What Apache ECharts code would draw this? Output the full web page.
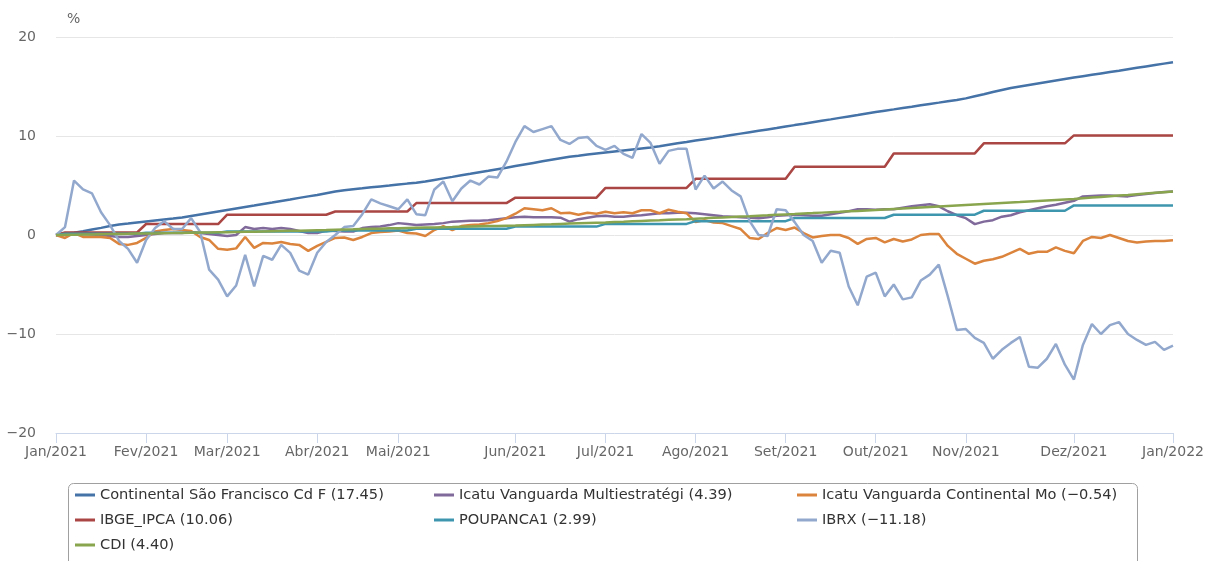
<!DOCTYPE html>
<html>
<head>
<meta charset="utf-8">
<script src="https://cdn.jsdelivr.net/npm/echarts@6.0.0/dist/echarts.min.js"></script>
<style>
  html, body { margin: 0; padding: 0; background: #fff; }
  #chart { width: 1208px; height: 561px; }
</style>
</head>
<body>
<div id="chart"></div>
<script>
// months on the x axis and how many points each month holds
const monthNames = ['Jan', 'Fev', 'Mar', 'Abr', 'Mai', 'Jun', 'Jul', 'Ago', 'Set', 'Out', 'Nov', 'Dez']
const daysInMonth = [31, 28, 31, 30, 31, 30, 31, 31, 30, 31, 30, 31]
const pointsPerMonth = [10, 9, 10, 9, 13, 10, 10, 10, 10, 10, 12, 11]
const yTicks = [-20, -10, 0, 10, 20]

// cumulative return, %
const continental = [
  0, 0.12, 0.24, 0.37, 0.55, 0.72, 0.9, 1.05, 1.15, 1.26,
  1.36, 1.46, 1.56, 1.66, 1.77, 1.92, 2.07, 2.22, 2.37,
  2.52, 2.67, 2.82, 2.97, 3.13, 3.28, 3.44, 3.59, 3.75, 3.9,
  4.05, 4.22, 4.39, 4.53, 4.63, 4.72, 4.82, 4.91, 5.0,
  5.1, 5.19, 5.27, 5.4, 5.56, 5.72, 5.87, 6.03, 6.18, 6.34, 6.49, 6.65, 6.8,
  6.96, 7.12, 7.28, 7.44, 7.6, 7.76, 7.91, 8.0, 8.13, 8.24,
  8.34, 8.44, 8.54, 8.64, 8.74, 8.84, 8.96, 9.11, 9.26, 9.4,
  9.55, 9.68, 9.81, 9.95, 10.1, 10.24, 10.38, 10.52, 10.66, 10.8,
  10.95, 11.1, 11.24, 11.39, 11.54, 11.68, 11.83, 11.98, 12.12, 12.27,
  12.42, 12.56, 12.69, 12.83, 12.96, 13.1, 13.24, 13.37, 13.51, 13.64,
  13.8, 14.01, 14.22, 14.44, 14.65, 14.85, 15.0, 15.15, 15.3, 15.45, 15.6, 15.75,
  15.9, 16.04, 16.18, 16.32, 16.46, 16.6, 16.75, 16.89, 17.03, 17.17, 17.31,
  17.45
]
const icatuMulti = [
  0, 0, 0.05, 0.1, 0.05, 0, -0.1, -0.2, -0.2, -0.1,
  0, 0.1, 0.2, 0.2, 0.2, 0.3, 0.2, 0.1, 0,
  -0.1, 0, 0.8, 0.6, 0.7, 0.6, 0.7, 0.6, 0.4, 0.2,
  0.2, 0.45, 0.4, 0.35, 0.35, 0.7, 0.8, 0.85, 1.0,
  1.2, 1.1, 1.0, 1.05, 1.1, 1.2, 1.35, 1.4, 1.45, 1.45, 1.5, 1.6, 1.7,
  1.8, 1.85, 1.8, 1.8, 1.8, 1.75, 1.35, 1.6, 1.75, 1.9,
  1.95, 1.85, 1.85, 1.95, 2.0, 2.1, 2.2, 2.2, 2.25, 2.25,
  2.2, 2.1, 2.0, 1.9, 1.85, 1.8, 1.75, 1.7, 1.8, 1.95,
  2.0, 2.05, 2.0, 1.95, 1.95, 2.1, 2.25, 2.4, 2.6, 2.6,
  2.55, 2.6, 2.6, 2.75, 2.9, 3.0, 3.1, 2.9, 2.4, 2.0,
  1.7, 1.1, 1.35, 1.5, 1.85, 2.0, 2.3, 2.5, 2.7, 2.9, 3.05, 3.25,
  3.45, 3.9, 3.95, 4.0, 4.0, 3.95, 3.9, 4.05, 4.15, 4.25, 4.35,
  4.39
]
const icatuCont = [
  0, -0.3, 0.2, -0.2, -0.2, -0.2, -0.3, -0.9, -1.0, -0.8,
  -0.3, 0.35, 0.5, 0.6, 0.5, 0.4, -0.2, -0.5, -1.4,
  -1.5, -1.35, -0.2, -1.3, -0.8, -0.85, -0.7, -0.9, -1.0, -1.6,
  -1.1, -0.7, -0.3, -0.25, -0.5, -0.2, 0.2, 0.3, 0.35,
  0.45, 0.2, 0.15, -0.1, 0.5, 0.9, 0.5, 0.9, 1.0, 1.05, 1.2, 1.4, 1.7,
  2.15, 2.7, 2.6, 2.5, 2.7, 2.2, 2.25, 2.05, 2.25, 2.15,
  2.35, 2.2, 2.3, 2.2, 2.5, 2.5, 2.2, 2.55, 2.35, 2.2,
  1.3, 1.5, 1.25, 1.2, 0.9, 0.6, -0.3, -0.4, 0.2, 0.7,
  0.5, 0.75, 0.2, -0.25, -0.1, 0.0, 0.0, -0.3, -0.9, -0.4,
  -0.3, -0.75, -0.4, -0.65, -0.45, 0.0, 0.1, 0.1, -1.1, -1.9,
  -2.4, -2.9, -2.6, -2.45, -2.2, -1.8, -1.4, -1.9, -1.7, -1.7, -1.25, -1.6,
  -1.85, -0.6, -0.2, -0.3, 0.0, -0.3, -0.6, -0.75, -0.65, -0.6, -0.6,
  -0.54
]
const ipca = [
  0, 0.25, 0.25, 0.25, 0.25, 0.25, 0.25, 0.25, 0.25, 0.25,
  1.11, 1.11, 1.11, 1.11, 1.11, 1.11, 1.11, 1.11, 1.11,
  2.05, 2.05, 2.05, 2.05, 2.05, 2.05, 2.05, 2.05, 2.05, 2.05,
  2.05, 2.05, 2.37, 2.37, 2.37, 2.37, 2.37, 2.37, 2.37,
  2.37, 2.37, 3.22, 3.22, 3.22, 3.22, 3.22, 3.22, 3.22, 3.22, 3.22, 3.22, 3.22,
  3.77, 3.77, 3.77, 3.77, 3.77, 3.77, 3.77, 3.77, 3.77, 3.77,
  4.76, 4.76, 4.76, 4.76, 4.76, 4.76, 4.76, 4.76, 4.76, 4.76,
  5.67, 5.67, 5.67, 5.67, 5.67, 5.67, 5.67, 5.67, 5.67, 5.67,
  5.67, 6.9, 6.9, 6.9, 6.9, 6.9, 6.9, 6.9, 6.9, 6.9,
  6.9, 6.9, 8.24, 8.24, 8.24, 8.24, 8.24, 8.24, 8.24, 8.24,
  8.24, 8.24, 9.26, 9.26, 9.26, 9.26, 9.26, 9.26, 9.26, 9.26, 9.26, 9.26,
  10.06, 10.06, 10.06, 10.06, 10.06, 10.06, 10.06, 10.06, 10.06, 10.06, 10.06,
  10.06
]
const poupanca = [
  0, 0.12, 0.12, 0.12, 0.12, 0.12, 0.12, 0.12, 0.12, 0.12,
  0.23, 0.23, 0.23, 0.23, 0.23, 0.23, 0.23, 0.23, 0.23,
  0.35, 0.35, 0.35, 0.35, 0.35, 0.35, 0.35, 0.35, 0.35, 0.35,
  0.35, 0.35, 0.46, 0.46, 0.46, 0.46, 0.46, 0.46, 0.46,
  0.46, 0.46, 0.64, 0.64, 0.64, 0.64, 0.64, 0.64, 0.64, 0.64, 0.64, 0.64, 0.64,
  0.85, 0.85, 0.85, 0.85, 0.85, 0.85, 0.85, 0.85, 0.85, 0.85,
  1.12, 1.12, 1.12, 1.12, 1.12, 1.12, 1.12, 1.12, 1.12, 1.12,
  1.4, 1.4, 1.4, 1.4, 1.4, 1.4, 1.4, 1.4, 1.4, 1.4,
  1.4, 1.72, 1.72, 1.72, 1.72, 1.72, 1.72, 1.72, 1.72, 1.72,
  1.72, 1.72, 2.05, 2.05, 2.05, 2.05, 2.05, 2.05, 2.05, 2.05,
  2.05, 2.05, 2.45, 2.45, 2.45, 2.45, 2.45, 2.45, 2.45, 2.45, 2.45, 2.45,
  2.99, 2.99, 2.99, 2.99, 2.99, 2.99, 2.99, 2.99, 2.99, 2.99, 2.99,
  2.99
]
const ibrx = [
  0, 0.8, 5.5, 4.6, 4.2, 2.3, 1.0, -0.6, -1.4, -2.8,
  -0.5, 0.7, 1.4, 0.6, 0.6, 1.7, 0.3, -3.5, -4.5,
  -6.2, -5.1, -2.0, -5.2, -2.1, -2.5, -1.0, -1.8, -3.6, -4.0,
  -1.8, -0.7, 0.0, 0.8, 0.9, 2.1, 3.6, 3.2, 2.9,
  2.6, 3.6, 2.1, 2.0, 4.6, 5.4, 3.4, 4.7, 5.5, 5.1, 5.9, 5.8, 7.4,
  9.4, 11.0, 10.4, 10.7, 11.0, 9.6, 9.2, 9.8, 9.9, 9.0,
  8.6, 9.0, 8.2, 7.8, 10.2, 9.3, 7.2, 8.5, 8.7, 8.7,
  4.6, 6.0, 4.7, 5.4, 4.5, 3.9, 1.4, 0.0, -0.1, 2.6,
  2.5, 1.3, 0.0, -0.6, -2.8, -1.6, -1.8, -5.2, -7.1, -4.2,
  -3.8, -6.2, -5.0, -6.5, -6.3, -4.6, -4.0, -3.0, -6.2, -9.6,
  -9.5, -10.4, -10.9, -12.5, -11.6, -10.9, -10.3, -13.3, -13.4, -12.5, -11.0, -13.1,
  -14.6, -11.1, -9.0, -10.0, -9.1, -8.8, -10.0, -10.6, -11.1, -10.8, -11.6,
  -11.18
]
const cdi = [
  0, 0.02, 0.03, 0.05, 0.06, 0.08, 0.09, 0.11, 0.12, 0.14,
  0.15, 0.16, 0.18, 0.19, 0.21, 0.22, 0.24, 0.25, 0.27,
  0.28, 0.3, 0.32, 0.34, 0.36, 0.38, 0.4, 0.42, 0.44, 0.46,
  0.48, 0.5, 0.53, 0.55, 0.57, 0.6, 0.62, 0.64, 0.67,
  0.69, 0.71, 0.73, 0.75, 0.77, 0.79, 0.81, 0.84, 0.86, 0.88, 0.9, 0.92, 0.94,
  0.96, 0.99, 1.02, 1.05, 1.08, 1.12, 1.15, 1.18, 1.21, 1.24,
  1.27, 1.31, 1.34, 1.38, 1.42, 1.46, 1.49, 1.53, 1.57, 1.6,
  1.64, 1.68, 1.73, 1.77, 1.82, 1.86, 1.9, 1.95, 1.99, 2.04,
  2.08, 2.12, 2.17, 2.21, 2.26, 2.3, 2.34, 2.39, 2.43, 2.48,
  2.52, 2.57, 2.62, 2.67, 2.72, 2.78, 2.83, 2.88, 2.93, 2.98,
  3.03, 3.08, 3.13, 3.18, 3.23, 3.28, 3.33, 3.39, 3.44, 3.49, 3.54, 3.59,
  3.64, 3.71, 3.78, 3.85, 3.92, 3.99, 4.05, 4.12, 4.19, 4.26, 4.33,
  4.4
]

const seriesNames = [
  'Continental São Francisco Cd F (17.45)',
  'Icatu Vanguarda Multiestratégi (4.39)',
  'Icatu Vanguarda Continental Mo (−0.54)',
  'IBGE_IPCA (10.06)',
  'POUPANCA1 (2.99)',
  'IBRX (−11.18)',
  'CDI (4.40)'
]
const seriesValues = [continental, icatuMulti, icatuCont, ipca, poupanca, ibrx, cdi]
const seriesColors = ['#4572a7', '#80699b', '#db843d', '#aa4643', '#3d96ae', '#92a8cd', '#89a54e']

// one category per point, dated inside its month
const pad = n => String(n).padStart(2, '0')
const categories = []
pointsPerMonth.forEach((n, m) => {
  for (let j = 0; j < n; j++) {
    const day = 1 + Math.floor(j * daysInMonth[m] / n)
    categories.push(pad(day) + '/' + pad(m + 1) + '/2021')
  }
})
categories.push('01/01/2022')

const isMonthStart = (idx, value) => String(value).startsWith('01/')
const FONT = "'DejaVu Sans', sans-serif"

const legendCol = (left, names) => ({
  orient: 'vertical',
  left: left,
  top: 487,
  padding: 0,
  itemGap: 9,
  itemWidth: 20,
  itemHeight: 3,
  icon: 'rect',
  selectedMode: false,
  data: names,
  textStyle: { color: '#333', fontSize: 14.6, fontFamily: FONT, lineHeight: 16 }
})

const chart = echarts.init(document.getElementById('chart'))
chart.setOption({
  animation: false,
  grid: { left: 56, right: 35, top: 37, bottom: 128 },
  xAxis: {
    type: 'category',
    data: categories,
    boundaryGap: false,
    axisLine: { onZero: false, lineStyle: { color: '#ccd6eb', width: 1 } },
    axisTick: { show: true, interval: isMonthStart, length: 10, lineStyle: { color: '#ccd6eb' } },
    axisLabel: {
      interval: isMonthStart,
      margin: 12,
      color: '#666',
      fontSize: 14,
      fontFamily: FONT,
      formatter: v => {
        const p = v.split('/')
        return monthNames[+p[1] - 1] + '/' + p[2]
      }
    },
    splitLine: { show: false }
  },
  yAxis: {
    type: 'value',
    min: yTicks[0],
    max: yTicks[yTicks.length - 1],
    interval: 10,
    name: '%',
    nameLocation: 'end',
    nameGap: 11,
    nameTextStyle: { color: '#666', fontSize: 14, fontFamily: FONT, align: 'left', padding: [0, 0, 0, 11] },
    axisLine: { show: false },
    axisTick: { show: false },
    axisLabel: {
      margin: 20,
      color: '#666',
      fontSize: 14,
      fontFamily: FONT,
      formatter: v => String(v).replace('-', '−')
    },
    splitLine: { lineStyle: { color: '#e6e6e6', width: 1 } }
  },
  legend: [
    legendCol(75, [seriesNames[0], seriesNames[3], seriesNames[6]]),
    legendCol(434, [seriesNames[1], seriesNames[4]]),
    legendCol(797, [seriesNames[2], seriesNames[5]])
  ],
  graphic: [{
    type: 'rect',
    left: 66,
    top: 481,
    shape: { width: 1069, height: 100, r: 5 },
    style: { fill: 'none', stroke: '#a0a0a0', lineWidth: 1 },
    silent: true
  }],
  series: seriesNames.map((name, i) => ({
    name: name,
    type: 'line',
    data: seriesValues[i],
    symbol: 'none',
    color: seriesColors[i],
    lineStyle: { width: 2.5, color: seriesColors[i] },
    emphasis: { disabled: true }
  }))
})
</script>
</body>
</html>
